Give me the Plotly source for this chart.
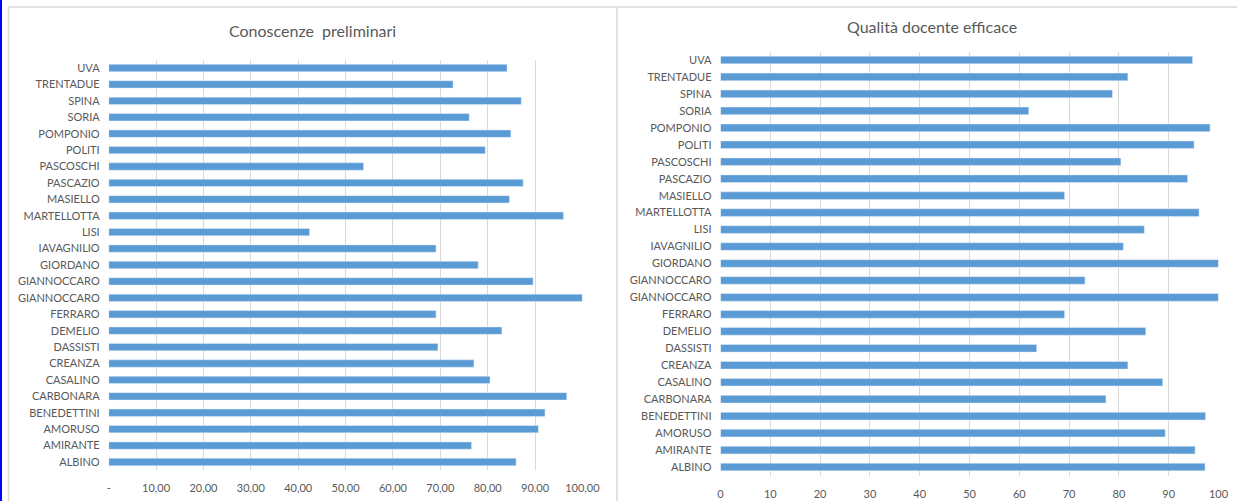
import plotly.graph_objects as go

# Data (bottom to top, as drawn)
names = ["ALBINO", "AMIRANTE", "AMORUSO", "BENEDETTINI", "CARBONARA", "CASALINO",
         "CREANZA", "DASSISTI", "DEMELIO", "FERRARO", "GIANNOCCARO", "GIANNOCCARO",
         "GIORDANO", "IAVAGNILIO", "LISI", "MARTELLOTTA", "MASIELLO", "PASCAZIO",
         "PASCOSCHI", "POLITI", "POMPONIO", "SORIA", "SPINA", "TRENTADUE", "UVA"]
conoscenze = [86.0, 76.6, 90.7, 92.1, 96.7, 80.5, 77.1, 69.5, 83.0, 69.1, 100.0, 89.6,
              78.0, 69.1, 42.4, 96.0, 84.6, 87.5, 53.8, 79.5, 84.9, 76.1, 87.1, 72.7, 84.1]
qualita = [97.3, 95.3, 89.3, 97.4, 77.4, 88.8, 81.8, 63.5, 85.4, 69.1, 100.0, 73.2,
           100.0, 80.9, 85.1, 96.1, 69.1, 93.8, 80.4, 95.1, 98.3, 61.9, 78.7, 81.8, 94.8]
title_left = "Conoscenze  preliminari"
title_right = "Qualità docente efficace"
x_ticks = [0, 10, 20, 30, 40, 50, 60, 70, 80, 90, 100]
x_ticktext_left = ["-", "10,00", "20,00", "30,00", "40,00", "50,00", "60,00",
                   "70,00", "80,00", "90,00", "100,00"]
x_ticktext_right = ["0", "10", "20", "30", "40", "50", "60", "70", "80", "90", "100"]

W, H = 1237, 501
BLUE = "#5B9BD5"
GRID = "#D9D9D9"
TXT = "#595959"
FONT = "Lato"

def px(x):
    return x / W

def py(y):
    return 1 - y / H

pos = list(range(len(names)))

fig = go.Figure()
fig.add_trace(go.Bar(x=conoscenze, y=pos, orientation="h", marker_color=BLUE,
                     xaxis="x", yaxis="y", showlegend=False))
fig.add_trace(go.Bar(x=qualita, y=pos, orientation="h", marker_color=BLUE,
                     xaxis="x2", yaxis="y2", showlegend=False))

axis_common = dict(showline=False, zeroline=False, fixedrange=True, automargin=False)

fig.update_layout(
    width=W, height=H, autosize=False, showlegend=False,
    margin=dict(l=0, r=0, t=0, b=0, pad=0, autoexpand=False),
    paper_bgcolor="white", plot_bgcolor="white",
    bargap=0.55,
    font=dict(family=FONT, color=TXT, size=11),
    xaxis=dict(domain=[px(108.7), px(582.4)], range=[0, 100], anchor="y",
               tickvals=x_ticks, ticktext=x_ticktext_left, showgrid=True,
               gridcolor=GRID, gridwidth=1, ticks="", ticklabelstandoff=10,
               tickfont=dict(size=11, color=TXT), **axis_common),
    yaxis=dict(domain=[py(470.2), py(59.8)], range=[-0.5, len(names) - 0.5], anchor="x",
               tickvals=pos, ticktext=names, showgrid=False, ticks="",
               ticklabelstandoff=8, tickfont=dict(size=11, color=TXT), **axis_common),
    xaxis2=dict(domain=[px(720.5), px(1218.5)], range=[0, 100], anchor="y2",
                tickvals=x_ticks, ticktext=x_ticktext_right, showgrid=True,
                gridcolor=GRID, gridwidth=1, ticks="", ticklabelstandoff=10,
                tickfont=dict(size=11, color=TXT), **axis_common),
    yaxis2=dict(domain=[py(475.5), py(51.5)], range=[-0.5, len(names) - 0.5], anchor="x2",
                tickvals=pos, ticktext=names, showgrid=False, ticks="",
                ticklabelstandoff=8, tickfont=dict(size=11, color=TXT), **axis_common),
    annotations=[
        dict(text=title_left, x=px(313), y=py(30), xref="paper", yref="paper",
             showarrow=False, xanchor="center", yanchor="middle",
             font=dict(family=FONT, size=16, color=TXT)),
        dict(text=title_right, x=px(932), y=py(27), xref="paper", yref="paper",
             showarrow=False, xanchor="center", yanchor="middle",
             font=dict(family=FONT, size=16, color=TXT)),
    ],
    shapes=[
        # outer panel borders
        dict(type="line", xref="paper", yref="paper", x0=px(8), x1=1, y0=py(7), y1=py(7),
             line=dict(color=GRID, width=1.5)),
        dict(type="line", xref="paper", yref="paper", x0=px(8.5), x1=px(8.5), y0=py(7), y1=0,
             line=dict(color=GRID, width=1.5)),
        dict(type="line", xref="paper", yref="paper", x0=px(617), x1=px(617), y0=py(7), y1=0,
             line=dict(color=GRID, width=1.5)),
        dict(type="line", xref="paper", yref="paper", x0=px(1), x1=px(1), y0=1, y1=0,
             line=dict(color="#0000FF", width=2)),
    ],
)

fig.write_html(
    "out.html",
    config={"displayModeBar": False, "responsive": False},
    post_script="document.body.style.margin='0';document.body.style.overflow='hidden';",
)
